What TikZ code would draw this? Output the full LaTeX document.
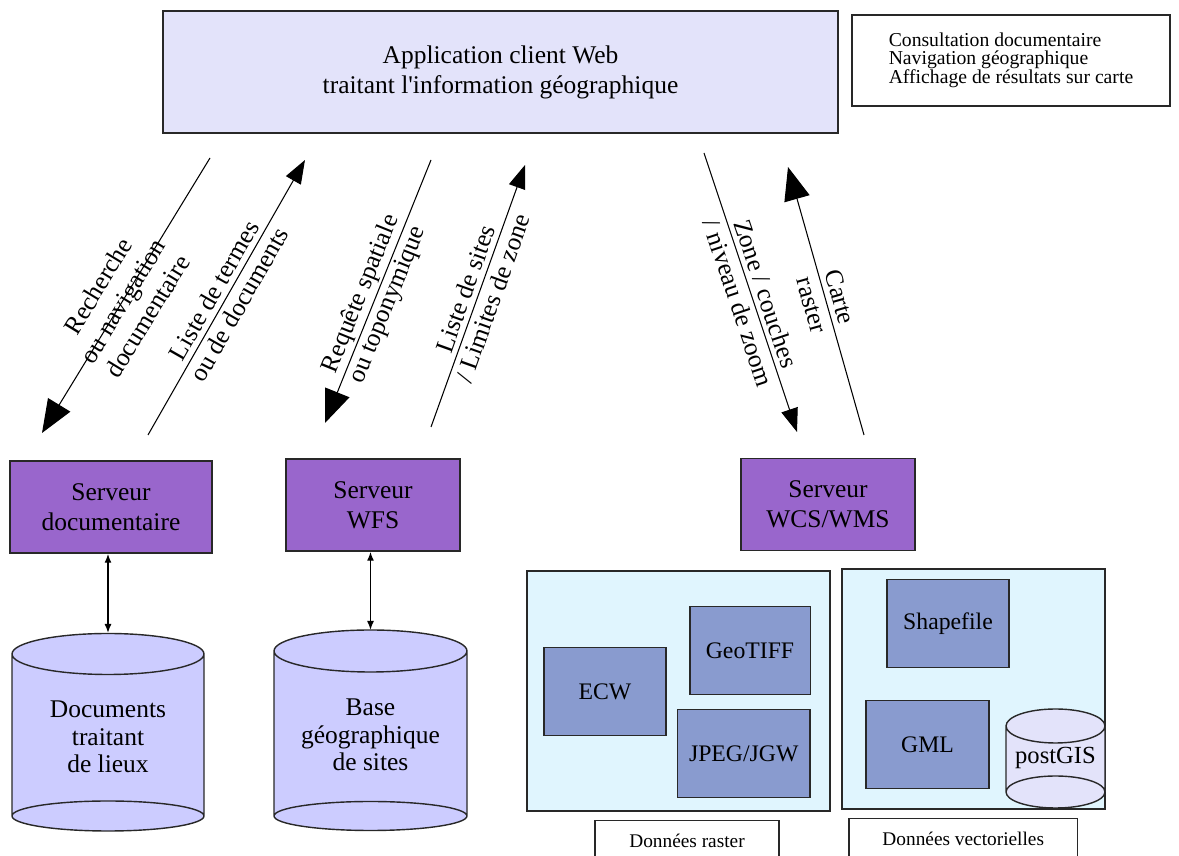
\documentclass[tikz,border=0pt]{standalone}
\usepackage{fontspec}
\setmainfont{Liberation Serif}
\usepackage{xcolor}
\usepackage{tikz}
\usetikzlibrary{arrows.meta}
\definecolor{appfill}{RGB}{227,227,250}
\definecolor{srvpurple}{RGB}{153,102,204}
\definecolor{dbfill}{RGB}{204,204,255}
\definecolor{datafill}{RGB}{224,245,254}
\definecolor{fmtblue}{RGB}{137,155,207}
\definecolor{edgegray}{RGB}{40,40,40}

\newcommand{\dbdrum}[7]{%
  \fill[#7] ({#1-#2},#3) -- ({#1-#2},#5) arc[start angle=180, end angle=360, x radius=#2, y radius=#6]
    -- ({#1+#2},#3) arc[start angle=0, end angle=180, x radius=#2, y radius=#4] -- cycle;
  \draw[edgegray, line width=0.8pt] ({#1-#2},#3) -- ({#1-#2},#5) ({#1+#2},#3) -- ({#1+#2},#5)
    (#1,#5) ellipse[x radius=#2, y radius=#6] (#1,#3) ellipse[x radius=#2, y radius=#4];
}

\begin{document}
\begin{tikzpicture}[
    plainbox/.style={draw=edgegray, line width=0.85pt, align=center, inner sep=0pt},
    srvbox/.style={plainbox, fill=srvpurple, minimum width=#1, minimum height=1.84cm, font=\fontsize{14.5}{17}\selectfont},
    fmtbox/.style={plainbox, fill=fmtblue, minimum width=2.44cm, minimum height=1.76cm, font=\fontsize{13.5}{16}\selectfont},
    flow/.style={line width=0.6pt},
    bighead/.style={-{Triangle[length=6.6mm,width=5.2mm]}},
    smallhead/.style={-{Triangle[length=4.7mm,width=3.4mm]}},
    flowlabel/.style={sloped, align=center, font=\fontsize{14.5}{16.5}\selectfont},
    linkarrow/.style={line width=0.8pt, {Latex[length=1.8mm,width=1.4mm]}-{Latex[length=1.8mm,width=1.4mm]}},
    legendbox/.style={draw=edgegray, line width=0.7pt, fill=white, anchor=north, minimum height=0.8cm, font=\fontsize{11}{13}\selectfont}
]
\useasboundingbox (0,0) rectangle (23.58,17.12);
\clip (0,0) rectangle (23.58,17.12);

\node[plainbox, fill=appfill, minimum width=13.5cm, minimum height=2.44cm, font=\fontsize{14.5}{17}\selectfont] (appweb) at (10.01,15.68) {Application client Web\\traitant l\textquotesingle information géographique};
\node[draw=edgegray, line width=0.8pt, minimum width=6.36cm, minimum height=1.82cm, align=left, font=\fontsize{11.2}{10}\selectfont] (usages) at (20.22,15.91) {Consultation documentaire\\Navigation géographique\\Affichage de résultats sur carte};

\node[srvbox=4.04cm] (srvdoc) at (2.22,6.98) {Serveur\\documentaire};
\node[srvbox=3.48cm] (srvwfs) at (7.46,7.02) {Serveur\\WFS};
\node[srvbox=3.48cm] (srvwcs) at (16.56,7.03) {Serveur\\WCS/WMS};

\coordinate (srchtop) at (4.20,13.96);
\coordinate (srchbot) at (0.84,8.46);
\coordinate (termbot) at (2.96,8.42);
\coordinate (termtop) at (6.10,13.92);
\coordinate (reqtop) at (8.62,13.92);
\coordinate (reqbot) at (6.50,8.66);
\coordinate (sitebot) at (8.62,8.58);
\coordinate (sitetop) at (10.50,13.82);
\coordinate (zoomtop) at (14.08,14.06);
\coordinate (zoombot) at (15.94,8.48);
\coordinate (cartebot) at (17.28,8.42);
\coordinate (cartetop) at (15.76,13.78);

\draw[flow, bighead] (srchtop) -- (srchbot) node[flowlabel, pos=0.52] (lblsrch) {Recherche\\ou navigation\\documentaire};
\draw[flow, smallhead] (termbot) -- (termtop) node[flowlabel, pos=0.5] (lblterm) {Liste de termes\\ou de documents};
\draw[flow, bighead] (reqtop) -- (reqbot) node[flowlabel, pos=0.53] (lblreq) {Requête spatiale\\ou toponymique};
\draw[flow, smallhead] (sitebot) -- (sitetop) node[flowlabel, pos=0.51] (lblsite) {Liste de sites\\/ Limites de zone};
\draw[flow, smallhead] (zoomtop) -- (zoombot) node[flowlabel, pos=0.52] (lblzoom) {Zone / couches\\/ niveau de zoom};
\draw[flow, bighead] (cartebot) -- (cartetop) node[flowlabel, pos=0.5] (lblcarte) {Carte\\raster};

\dbdrum{2.16}{1.92}{4.04}{0.41}{0.80}{0.30}{dbfill}
\dbdrum{7.41}{1.93}{4.10}{0.42}{0.80}{0.29}{dbfill}
\node[align=center, font=\fontsize{14.5}{15.5}\selectfont] (docbase) at (2.16,2.38) {Documents\\traitant\\de lieux};
\node[align=center, font=\fontsize{14.5}{15.5}\selectfont] (geobase) at (7.41,2.42) {Base\\géographique\\de sites};
\coordinate (doctop) at (2.16,4.46);
\coordinate (geotop) at (7.41,4.52);
\draw[linkarrow] (srvdoc.south -| doctop) -- (doctop);
\draw[linkarrow] (srvwfs.south -| geotop) -- (geotop);

\node[plainbox, fill=datafill, minimum width=6.06cm, minimum height=4.80cm] (rastergrp) at (13.57,3.30) {};
\node[plainbox, fill=datafill, minimum width=5.26cm, minimum height=4.80cm] (vectorgrp) at (19.47,3.34) {};
\node[fmtbox] (ecw) at (12.10,3.29) {ECW};
\node[fmtbox, minimum width=2.41cm] (geotiff) at (15.00,4.11) {GeoTIFF};
\node[fmtbox, minimum width=2.65cm] (jpeg) at (14.875,2.05) {JPEG/JGW};
\node[fmtbox] (shape) at (18.96,4.65) {Shapefile};
\node[fmtbox, minimum width=2.46cm] (gml) at (18.55,2.23) {GML};
\dbdrum{21.11}{0.99}{2.60}{0.34}{1.28}{0.32}{appfill}
\node[font=\fontsize{14}{16}\selectfont] (postgis) at (21.11,1.96) {postGIS};

\node[legendbox, minimum width=3.68cm] (rasterlbl) at (13.74,0.72) {Données raster};
\node[legendbox, minimum width=4.57cm] (vectorlbl) at (19.265,0.76) {Données vectorielles};
\end{tikzpicture}
\end{document}
